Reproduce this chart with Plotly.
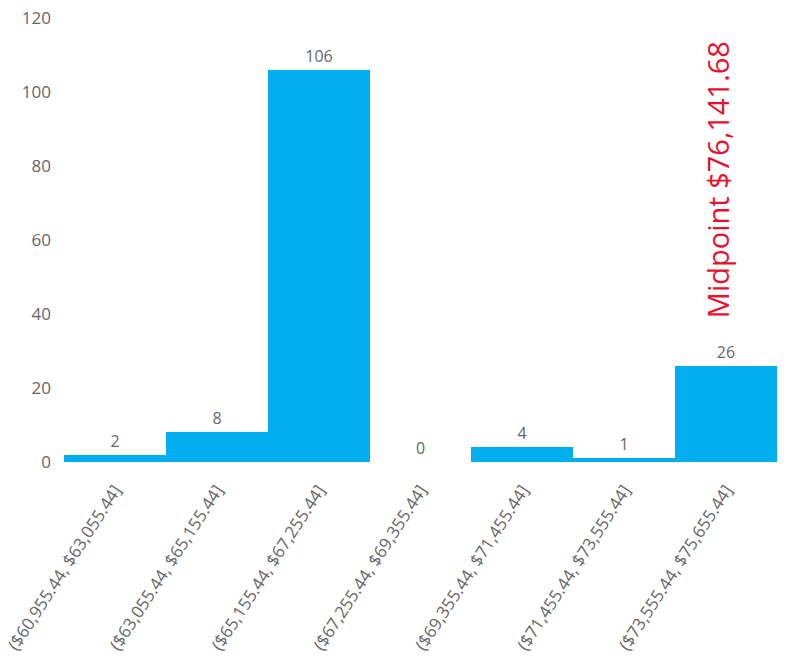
import plotly.graph_objects as go

# Salary bins (lower/upper edges) and employee counts per bin
bin_lower = [60955.44, 63055.44, 65155.44, 67255.44, 69355.44, 71455.44, 73555.44]
bin_upper = [63055.44, 65155.44, 67255.44, 69355.44, 71455.44, 73555.44, 75655.44]
counts = [2, 8, 106, 0, 4, 1, 26]
midpoint = 76141.68

bin_labels = [f"(${lo:,.2f}, ${hi:,.2f}]" for lo, hi in zip(bin_lower, bin_upper)]
bin_centers = [(lo + hi) / 2 for lo, hi in zip(bin_lower, bin_upper)]
bin_widths = [hi - lo for lo, hi in zip(bin_lower, bin_upper)]

BAR = "#00ADEF"
GREY = "#666666"
FONT = "Open Sans"

W, H = 792, 667
left, top, bottom = 64, 18, 205
plot_w = W - left
# horizontal scale so that the bins fill 713 px of the plot area
px_per_unit = 713 / (bin_upper[-1] - bin_lower[0])
x_end = bin_lower[0] + plot_w / px_per_unit

fig = go.Figure(
    go.Bar(
        x=bin_centers,
        y=counts,
        width=bin_widths,
        marker=dict(color=BAR, line=dict(width=0)),
        text=[str(c) for c in counts],
        textposition="outside",
        textfont=dict(family=FONT, size=16, color=GREY),
        cliponaxis=False,
    )
)

fig.add_annotation(
    text=f"Midpoint ${midpoint:,.2f}",
    xref="paper", yref="paper",
    x=0.898, y=0.32,
    xanchor="center", yanchor="bottom",
    textangle=-90,
    showarrow=False,
    font=dict(family=FONT, size=29, color="#E8112D"),
)

fig.update_layout(
    width=W, height=H,
    margin=dict(l=left, r=0, t=top, b=bottom),
    paper_bgcolor="white",
    plot_bgcolor="white",
    showlegend=False,
    bargap=0,
    font=dict(family=FONT, color=GREY),
)
fig.update_xaxes(
    range=[bin_lower[0], x_end],
    tickmode="array",
    tickvals=bin_centers,
    ticktext=bin_labels,
    tickangle=-57,
    tickfont=dict(family=FONT, size=17, color=GREY),
    ticklabelstandoff=14,
    showgrid=False, zeroline=False, showline=False, ticks="",
)
fig.update_yaxes(
    range=[0, 120],
    tickvals=[0, 20, 40, 60, 80, 100, 120],
    tickfont=dict(family=FONT, size=17, color=GREY),
    showgrid=False, zeroline=False, showline=False, ticks="",
    ticklabelstandoff=12,
)

fig.write_html("out.html")
